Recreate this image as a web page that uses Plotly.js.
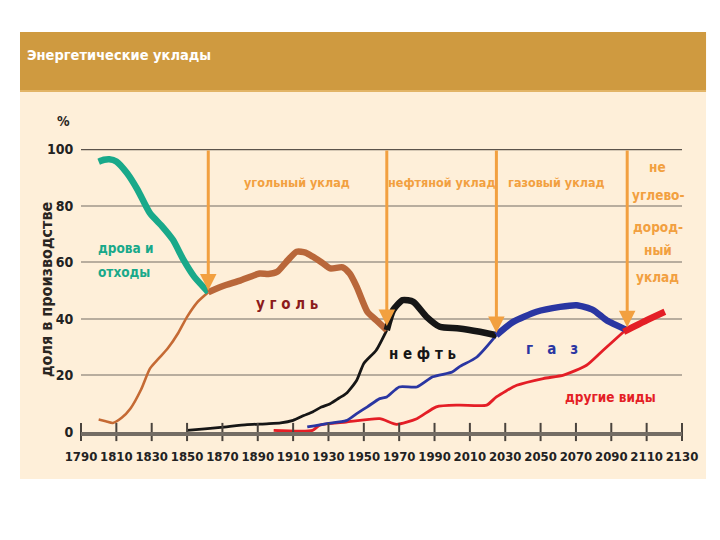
<!DOCTYPE html>
<html><head><meta charset="utf-8">
<script src="https://cdn.plot.ly/plotly-3.0.1.min.js"></script>
<style>html,body{margin:0;padding:0;background:#fff}#c{width:720px;height:540px}</style>
</head><body><div id="c"></div>
<script>
// ---- data ----
const tickYears = [1790,1810,1830,1850,1870,1890,1910,1930,1950,1970,1990,2010,2030,2050,2070,2090,2110,2130];
const yTicks = [0,20,40,60,80,100];

const woodYears = [1800,1803,1806,1810,1816,1822,1829,1836,1842,1848,1854,1862];
const woodShare = [95.5,96.2,96.4,95.6,91.5,85.6,77.3,72.6,67.9,60.8,54.9,49.4];

const coalEarlyYears = [1800,1804,1808,1813,1818,1824,1829,1834,1839,1845,1850,1856,1862];
const coalEarlyShare = [4.4,3.8,3.2,5,8.3,15,22.4,26,29.5,35,40.7,46,49.4];
const coalYears = [1862,1870,1880,1891,1896,1901,1906,1912,1917,1921,1926,1931,1938,1942,1946,1952,1957,1963];
const coalShare = [49.4,51.5,53.5,56,55.8,56.6,60,63.7,63.4,62,60,57.8,58.2,56,51.3,42.5,39.5,36];

const oilEarlyYears = [1850,1860,1869,1884,1895,1903,1910,1916,1921,1926,1931,1936,1940,1946,1950,1957,1963];
const oilEarlyShare = [0.6,1.1,1.6,2.6,2.9,3.2,4.1,5.8,7.1,8.8,10,12,13.6,18.3,24.2,28.9,36];
const oilYears = [1963,1966.6,1972,1978,1985.5,1993,2004,2015.7,2025];
const oilShare = [36,43.1,46.6,46,40.7,37.2,36.6,35.4,34.2];

const gasEarlyYears = [1918,1929,1940,1946,1952,1959,1963,1970,1980,1989,2000,2004,2014,2025];
const gasEarlyShare = [1.8,3,4,6.5,8.9,11.8,12.4,15.9,15.9,19.5,21.2,23,26.5,34.2];
const gasYears = [2025,2034.5,2047.7,2061,2070.4,2079.8,2087.3,2099];
const gasShare = [34.2,38.9,42.5,44.2,44.8,43.1,39.5,36];

const otherEarlyYears = [1899,1921,1925,1940,1959,1968.5,1980,1991,2004,2019.5,2025,2036.5,2051.5,2063,2076,2085.4,2097];
const otherEarlyShare = [0.6,0.6,2.4,3.5,4.7,2.7,4.7,8.9,9.5,9.5,12.4,16.5,18.9,20.1,23.6,28.9,35.4];
const otherYears = [2097,2110,2120.3];
const otherShare = [35.4,39.5,42.5];

// transitions between energy eras (arrows)
const transitionYears = [1862,1963,2025,2099];
const transitionShares = [50,37.5,35,37];

// ---- styling ----
const F = '"DejaVu Sans Condensed","DejaVu Sans",sans-serif';
const C = {wood:'#19a98a', coal:'#b9673a', coalThin:'#c56a34', oil:'#161616', gas:'#2a36a2', other:'#e41e26', orange:'#f2a040'};
function font(size,color){ return {family:F,size:size,color:color,weight:'bold',stretch:'condensed'}; }

function line(x,y,color,width){
  return {x:x,y:y,mode:'lines',type:'scatter',hoverinfo:'skip',cliponaxis:false,
          line:{color:color,width:width,shape:'spline',smoothing:0.6}};
}
const traces = [
  line(coalEarlyYears,coalEarlyShare,C.coalThin,2.6),
  line(otherEarlyYears,otherEarlyShare,C.other,2.8),
  line(gasEarlyYears,gasEarlyShare,C.gas,2.8),
  line(oilEarlyYears,oilEarlyShare,C.oil,2.8),
  line(woodYears,woodShare,C.wood,6.5),
  line(coalYears,coalShare,C.coal,6.5),
  line(oilYears,oilShare,C.oil,6.5),
  line(gasYears,gasShare,C.gas,6.5),
  line(otherYears,otherShare,C.other,6.5),
  {x:tickYears,y:tickYears.map(()=>0),mode:'markers',type:'scatter',hoverinfo:'skip',cliponaxis:false,
   marker:{symbol:'line-ns',size:13,line:{width:2,color:'#4a443e'}}}
];

const ann = [];
function txt(x,y,t,color,size,extra){
  ann.push(Object.assign({x:x,y:y,xref:'x',yref:'y',text:t,showarrow:false,font:font(size,color)},extra||{}));
}
function ptxt(x,y,t,color,size,extra){
  ann.push(Object.assign({x:x,y:y,xref:'paper',yref:'paper',xanchor:'center',yanchor:'middle',
    text:t,showarrow:false,font:font(size,color)},extra||{}));
}
// arrows
transitionYears.forEach((yr,i)=>{
  ann.push({x:yr,y:transitionShares[i],ax:yr,ay:100,xref:'x',yref:'y',axref:'x',ayref:'y',text:'',
    showarrow:true,arrowhead:2,arrowsize:1.1,arrowwidth:3,arrowcolor:C.orange,standoff:0});
});
txt(1912.2,88.3,'угольный уклад',C.orange,12.5);
txt(1994,88.3,'нефтяной уклад',C.orange,12.5);
txt(2059.2,88.3,'газовый уклад',C.orange,12.5);
[['не',93.8],['углево-',83.8],['дород-',72.6],['ный',64.3],['уклад',54.9]].forEach(p=>txt(2116.4,p[1],p[0],C.orange,13.5));
txt(1798.5,64.9,'дрова и',C.wood,13.5,{xanchor:'left'});
txt(1798.5,56.6,'отходы',C.wood,13.5,{xanchor:'left'});
txt(1906.8,45.4,'у г о л ь','#8c1c1c',15);
txt(1983.2,27.7,'н е ф т ь','#161616',15);
txt(2056.2,29.5,'г &nbsp; а &nbsp; з',C.gas,15);
txt(2089.7,12.4,'другие виды',C.other,13.5);
ptxt(-0.0283,1.099,'%','#2a2622',14);
ptxt(-0.0582,0.505,'доля в производстве','#2a2622',16,{textangle:-90});
ptxt(-0.0932,1.332,'Энергетические уклады','#ffffff',14.5,{xanchor:'left'});

const layout = {
  width:720,height:540,
  margin:{l:81,r:38,t:149,b:108},
  paper_bgcolor:'#ffffff',plot_bgcolor:'rgba(0,0,0,0)',
  showlegend:false,
  xaxis:{range:[1790,2130],tickvals:tickYears,ticktext:tickYears.map(String),showgrid:false,zeroline:false,
    showline:true,linecolor:'#746d65',linewidth:4,ticks:'outside',ticklen:9,tickcolor:'rgba(0,0,0,0)',tickangle:0,
    tickfont:font(13,'#222'),fixedrange:true},
  yaxis:{range:[0,100],tickvals:yTicks,showgrid:true,gridcolor:'#b8ad9e',gridwidth:2,zeroline:false,
    showline:false,ticks:'outside',ticklen:4,tickcolor:'rgba(0,0,0,0)',
    tickfont:font(14,'#222'),fixedrange:true},
  shapes:[
    {type:'rect',xref:'paper',yref:'paper',x0:-0.1015,x1:1.040,y0:-0.1661,y1:1.2085,fillcolor:'#feefd9',line:{width:0},layer:'below'},
    {type:'rect',xref:'paper',yref:'paper',x0:-0.1015,x1:1.040,y0:1.2085,y1:1.4134,fillcolor:'#cf9a40',line:{width:0},layer:'below'},
    {type:'rect',xref:'paper',yref:'paper',x0:-0.1015,x1:1.040,y0:1.2014,y1:1.2085,fillcolor:'#e2b466',line:{width:0},layer:'below'},
    {type:'line',xref:'paper',yref:'y',x0:0,x1:1,y0:100,y1:100,line:{color:'#5b534b',width:2.5},layer:'below'}
  ],
  annotations:ann
};
Plotly.newPlot('c',traces,layout,{staticPlot:true,displayModeBar:false});
</script></body></html>
